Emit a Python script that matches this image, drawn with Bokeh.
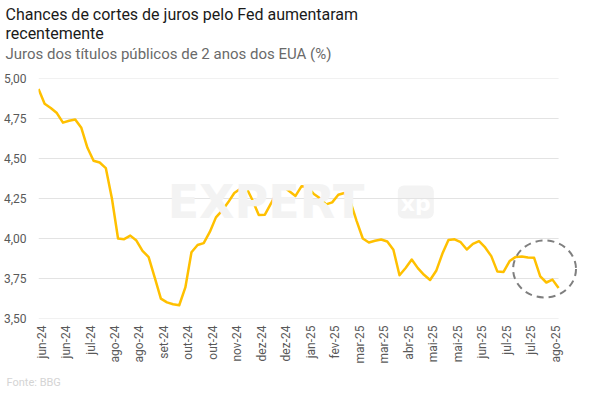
import math
from bokeh.plotting import figure
from bokeh.models import Range1d, FixedTicker, Label, Title
from bokeh.embed import file_html
from bokeh.resources import INLINE

# ---- data (2-year US Treasury yield, %) ----
yields = [4.934, 4.842, 4.816, 4.784, 4.724, 4.736, 4.744, 4.692, 4.567, 4.486,
          4.475, 4.440, 4.250, 4.000, 3.996, 4.018, 3.987, 3.923, 3.884, 3.756,
          3.624, 3.601, 3.589, 3.583, 3.694, 3.914, 3.959, 3.971, 4.041, 4.132,
          4.174, 4.226, 4.284, 4.311, 4.316, 4.237, 4.147, 4.149, 4.219, 4.293,
          4.325, 4.295, 4.266, 4.327, 4.323, 4.278, 4.251, 4.213, 4.226, 4.273,
          4.284, 4.228, 4.109, 4.000, 3.975, 3.986, 3.994, 3.981, 3.930, 3.770,
          3.816, 3.869, 3.815, 3.773, 3.741, 3.798, 3.904, 3.990, 3.995, 3.977,
          3.931, 3.966, 3.983, 3.944, 3.890, 3.793, 3.791, 3.859, 3.885, 3.887,
          3.881, 3.879, 3.763, 3.725, 3.743, 3.690]
periods = list(range(len(yields)))

x_tick_labels = ["jun-24", "jun-24", "jul-24", "ago-24", "ago-24", "set-24", "out-24",
                 "out-24", "nov-24", "dez-24", "dez-24", "jan-25", "fev-25", "mar-25",
                 "mar-25", "abr-25", "mai-25", "mai-25", "jun-25", "jul-25", "jul-25",
                 "ago-25"]
y_ticks = [3.50, 3.75, 4.00, 4.25, 4.50, 4.75, 5.00]
y_tick_labels = ["3,50", "3,75", "4,00", "4,25", "4,50", "4,75", "5,00"]

title_text = "Chances de cortes de juros pelo Fed aumentaram\nrecentemente"
subtitle = "Juros dos títulos públicos de 2 anos dos EUA (%)"
source = "Fonte: BBG"

# ---- layout helpers (page pixel -> data) ----
PX_PER_UNIT = 6.13
FRAME_LEFT, FRAME_BOTTOM, PX_PER_PCT = 37.0, 318.0, 160.0
def dx(px):
    return (px - FRAME_LEFT) / PX_PER_UNIT
def dy(py):
    return 3.5 + (FRAME_BOTTOM - py) / PX_PER_PCT

x_tick_pos = [0.5 + 4 * j for j in range(len(x_tick_labels))]

p = figure(width=590, height=396, output_backend="svg", toolbar_location=None,
           x_range=Range1d(0, dx(580)), y_range=Range1d(3.5, 5.0),
           min_border_left=37, min_border_right=10, min_border_top=78,
           min_border_bottom=78)
p.outline_line_color = None
p.xgrid.visible = False
p.ygrid.visible = False
p.background_fill_color = "white"
p.border_fill_color = "white"

FONT = "Roboto"
for ax in (p.xaxis[0], p.yaxis[0]):
    ax.axis_line_color = None
    ax.major_tick_line_color = None
    ax.minor_tick_line_color = None
    ax.major_tick_out = 0
    ax.major_tick_in = 0
    ax.major_label_text_font = FONT
    ax.major_label_text_font_size = "12px"
    ax.major_label_text_color = "#595959"

p.yaxis.ticker = FixedTicker(ticks=y_ticks)
p.yaxis.major_label_overrides = dict(zip(y_ticks, y_tick_labels))
p.yaxis.major_label_standoff = 12

p.xaxis.ticker = FixedTicker(ticks=x_tick_pos)
p.xaxis.major_label_overrides = dict(zip(x_tick_pos, x_tick_labels))
p.xaxis.major_label_orientation = math.pi / 2
p.xaxis.major_label_standoff = 7

# titles (stacked above the frame: first added is nearest to the frame)
p.add_layout(Title(text=subtitle, align="left", offset=-33, standoff=32,
                   text_font=FONT, text_font_size="15px", text_font_style="normal",
                   text_color="#6a6a6a"), "above")
p.add_layout(Title(text=title_text, align="left", offset=-33, standoff=-33,
                   text_font=FONT, text_font_size="16px", text_font_style="normal",
                   text_color="#1a1a1a"), "above")
p.add_layout(Title(text=source, align="left", offset=-32, standoff=14,
                   text_font=FONT, text_font_size="11px", text_font_style="normal",
                   text_color="#d4d4d4"), "below")

# watermark
p.add_layout(Label(x=dx(265), y=dy(201), text="EXPERT", text_align="center",
                   text_baseline="middle", text_font="DejaVu Sans",
                   text_font_style="bold", text_font_size="46px",
                   text_color="#f3f3f3"))
p.quad(left=dx(397), right=dx(433), top=dy(185), bottom=dy(218),
       fill_color="#f3f3f3", line_color=None, border_radius=6)
p.add_layout(Label(x=dx(415), y=dy(203), text="xp", text_align="center",
                   text_baseline="middle", text_font="DejaVu Sans",
                   text_font_style="bold", text_font_size="22px",
                   text_color="white"))

# gridlines
p.segment(x0=[periods[0]] * len(y_ticks), x1=[periods[-1]] * len(y_ticks),
          y0=y_ticks, y1=y_ticks, line_color="#e3e3e3", line_width=1)

# series
p.line(periods, yields, line_color="#FFC000", line_width=2.5, line_join="round")

# highlight circle
p.ellipse(x=dx(544), y=dy(268.5), width=63 / PX_PER_UNIT, height=57 / PX_PER_PCT,
          fill_color=None, line_color="#7f7f7f", line_width=2, line_dash="7 5")

open("out.html", "w").write(file_html(p, INLINE))
